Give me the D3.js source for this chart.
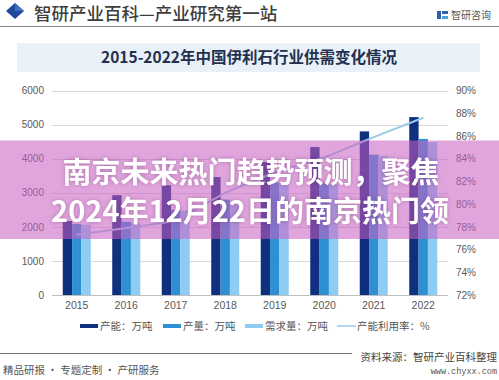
<!DOCTYPE html>
<html><head><meta charset="utf-8">
<script src="https://cdn.jsdelivr.net/npm/d3@7"></script>
<style>
html,body{margin:0;padding:0;background:#fff;}
svg{display:block;font-family:"Noto Sans CJK SC","Noto Sans",sans-serif;}
</style></head>
<body>
<svg id="c" width="499" height="380"></svg>
<script>
const years = ["2015","2016","2017","2018","2019","2020","2021","2022"];
const capacity = [2170, 2930, 3220, 3460, 3900, 4340, 4800, 5220];
const output = [2080, 2150, 2500, 2800, 3300, 3300, 4120, 4580];
const demand = [2060, 2110, 2480, 2760, 3250, 3250, 4080, 4490];
const utilization = [77.3, 77.9, 78.5, 81.0, 82.8, 84.1, 85.9, 87.6];
const leftTicks = [0, 1000, 2000, 3000, 4000, 5000, 6000];
const rightTicks = [72, 74, 76, 78, 80, 82, 84, 86, 88, 90];
const seriesNames = ["产能：万吨", "产量：万吨", "需求量：万吨", "产能利用率：%"];
const seriesColors = ["#0f2f7f", "#2e8fd3", "#8ecdf3", "#9ccbe6"];

const svg = d3.select("#c");

// header
svg.append("path").attr("d","M15,3 L24,11 L15,19 L6,11 Z").attr("fill","#1d4a9c");
svg.append("path").attr("d","M15,3 L24,11 L15,11 Z").attr("fill","#3f6fc0");
svg.append("text").attr("x",34).attr("y",20).attr("font-size",17.5).attr("font-weight",500)
  .attr("fill","#3d3d3d").text("智研产业百科—产业研究第一站");
svg.append("rect").attr("x",437).attr("y",11).attr("width",4).attr("height",8).attr("fill","#2f5fa8");
svg.append("rect").attr("x",442).attr("y",11).attr("width",6).attr("height",3).attr("fill","#2f5fa8");
svg.append("rect").attr("x",442).attr("y",16).attr("width",6).attr("height",3).attr("fill","#4aa0d8");
svg.append("text").attr("x",451).attr("y",19).attr("font-size",10).attr("fill","#555").text("智研咨询");
svg.append("line").attr("x1",0).attr("x2",499).attr("y1",26.5).attr("y2",26.5).attr("stroke","#8a8a8a").attr("stroke-width",1);

// title box
svg.append("rect").attr("x",17).attr("y",43).attr("width",463).attr("height",29).attr("fill","#eaf0f8");
svg.append("text").attr("x",249).attr("y",63).attr("text-anchor","middle").attr("font-size",15.5)
  .attr("font-weight",700).attr("fill","#22304f").text("2015-2022年中国伊利石行业供需变化情况");

// scales
const x = d3.scaleBand().domain(years).range([52,448]).paddingInner(0.434).paddingOuter(0.217);
const xs = d3.scaleBand().domain([0,1,2]).range([0, x.bandwidth()]);
const yL = d3.scaleLinear().domain([0,6000]).range([295,90.5]);
const yR = d3.scaleLinear().domain([72,90]).range([295,90.5]);

// grid
svg.append("g").selectAll("line").data(leftTicks.slice(1)).join("line")
  .attr("x1",52).attr("x2",448).attr("y1",d=>Math.round(yL(d))+0.5).attr("y2",d=>Math.round(yL(d))+0.5)
  .attr("stroke","#d9d9d9");
svg.append("line").attr("x1",52).attr("x2",448).attr("y1",295.5).attr("y2",295.5).attr("stroke","#bfbfbf");

// axes
const gl = svg.append("g").attr("transform","translate(52,0)")
  .call(d3.axisLeft(yL).tickValues(leftTicks).tickFormat(d3.format("d")).tickSize(0).tickPadding(8));
gl.select(".domain").remove();
gl.selectAll("text").attr("font-size",10).attr("fill","#595959").attr("font-family","Liberation Sans, Arial, sans-serif");
const gr = svg.append("g").attr("transform","translate(448,0)")
  .call(d3.axisRight(yR).tickValues(rightTicks).tickFormat(d=>d+"%").tickSize(0).tickPadding(8));
gr.select(".domain").remove();
gr.selectAll("text").attr("font-size",10).attr("fill","#595959").attr("font-family","Liberation Sans, Arial, sans-serif");
const gx = svg.append("g").attr("transform","translate(0,295)")
  .call(d3.axisBottom(x).tickSize(0).tickPadding(7));
gx.select(".domain").remove();
gx.selectAll("text").attr("font-size",10.5).attr("fill","#595959").attr("font-family","Liberation Sans, Arial, sans-serif");

// bars
const barSeries = [capacity, output, demand];
barSeries.forEach((vals, si) => {
  svg.append("g").selectAll("rect").data(vals).join("rect")
    .attr("x",(d,i)=>x(years[i]) + xs(si))
    .attr("width",xs.bandwidth())
    .attr("y",d=>yL(d))
    .attr("height",d=>yL(0)-yL(d))
    .attr("fill",seriesColors[si]);
});

// line
const line = d3.line().x((d,i)=>x(years[i])+x.bandwidth()/2).y(d=>yR(d));
svg.append("path").datum(utilization).attr("d",line).attr("fill","none")
  .attr("stroke",seriesColors[3]).attr("stroke-width",2);

// legend
const legX = [80, 163, 245, 337];
const lg = svg.append("g");
seriesNames.forEach((n,i)=>{
  if (i<3) lg.append("rect").attr("x",legX[i]).attr("y",324).attr("width",18).attr("height",4).attr("fill",seriesColors[i]);
  else lg.append("line").attr("x1",legX[i]).attr("x2",legX[i]+19).attr("y1",326).attr("y2",326).attr("stroke",seriesColors[i]).attr("stroke-width",1.5);
  lg.append("text").attr("x",legX[i]+20).attr("y",330).attr("font-size",10.5).attr("fill","#555").text(n);
});

// footer
svg.append("line").attr("x1",0).attr("x2",352).attr("y1",353.5).attr("y2",353.5).attr("stroke","#777");
svg.append("text").attr("x",497).attr("y",361).attr("text-anchor","end").attr("font-size",10.5).attr("fill","#444").text("资料来源：智研产业百科整理");
svg.append("text").attr("x",497).attr("y",374).attr("text-anchor","end").attr("font-size",8.5)
  .attr("font-family","Liberation Mono, DejaVu Sans Mono, monospace").attr("fill","#555").text("www.chyxx.com");
svg.append("text").attr("x",3).attr("y",374).attr("font-size",10.5).attr("fill","#555").text("精品研报 · 专题定制 · 产研服务");

// overlay banner
svg.append("rect").attr("x",0).attr("y",140.5).attr("width",499).attr("height",98.5).attr("fill","rgb(202,95,195)").attr("fill-opacity",0.56);
const bannerLines = ["南京未来热门趋势预测，聚焦","2024年12月22日的南京热门领"];
const bt = svg.append("g").attr("font-size",29).attr("font-weight",700).attr("fill","#fff").attr("text-anchor","middle")
  .style("filter","drop-shadow(0px 0px 2px rgba(90,30,90,0.35))");
bt.append("text").attr("x",251).attr("y",183).text(bannerLines[0]);
bt.append("text").attr("x",250).attr("y",222).text(bannerLines[1]);
</script>
</body></html>
